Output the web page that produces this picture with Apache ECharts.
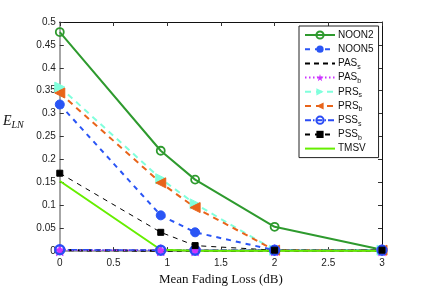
<!DOCTYPE html>
<html><head><meta charset="utf-8">
<script src="https://cdn.jsdelivr.net/npm/echarts@6/dist/echarts.min.js"></script>
<style>html,body{margin:0;padding:0;background:#fff}#c{width:422px;height:291px}</style>
</head><body><div id="c"></div>
<script>
const xVals = [0, 0.94, 1.26, 2, 3];
const NOON2 = [0.478, 0.219, 0.156, 0.053, 0.003];
const NOON5 = [0.32, 0.078, 0.041, 0.002, 0.002];
const PASs = [0.002, 0.001, 0.001, 0.001, 0.001];
const PASb = [0.002, 0.002, 0.002, 0.002, 0.002];
const PRSs = [0.358, 0.158, 0.103, 0.002, 0.002];
const PRSb = [0.345, 0.149, 0.095, 0.002, 0.002];
const PSSs = [0.003, 0.002, 0.002, 0.002, 0.002];
const PSSb = [0.17, 0.041, 0.012, 0.002, 0.002];
const TMSV = [0.153, 0.003, 0.001, 0.001, 0.001];
const yTicks = [0, 0.05, 0.1, 0.15, 0.2, 0.25, 0.3, 0.35, 0.4, 0.45, 0.5];
const xTicks = [0, 0.5, 1, 1.5, 2, 2.5, 3];

const pair = a => a.map((v, i) => [xVals[i], v]);
const star = 'path://M50,0 L61,35 L98,35 L68,57 L79,91 L50,70 L21,91 L32,57 L2,35 L39,35 Z';
const clear = 'rgba(255,255,255,0)';

function S(name, data, color, type, width, symbol, size, extra) {
  return Object.assign({
    name, type: 'line', data: pair(data), xAxisIndex: 0, yAxisIndex: 0,
    lineStyle: { color, type, width },
    itemStyle: { color, borderColor: color },
    symbol: symbol || 'none', symbolSize: size || 0, showSymbol: !!symbol,
    animation: false, z: 3
  }, extra || {});
}

const series = [
  S('NOON2', NOON2, '#2e9a2e', 'solid', 2, 'circle', 8, { itemStyle: { color: clear, borderColor: '#2e9a2e', borderWidth: 1.8 } }),
  S('NOON5', NOON5, '#2a55f5', [5, 5], 2, 'circle', 9),
  S('PASs', PASs, '#000', [5, 4], 2.2, null, 0),
  S('PASb', PASb, '#cc33ff', [1.5, 2.5], 1.5, star, 11),
  S('PRSs', PRSs, '#80ffdc', [6, 5], 2, 'triangle', 10, { symbolRotate: -90 }),
  S('PRSb', PRSb, '#e8641a', [6, 5], 2, 'triangle', 10, { symbolRotate: 90 }),
  S('PSSs', PSSs, '#2a4bf5', [6, 2, 1.5, 2], 1.5, 'circle', 9, { itemStyle: { color: clear, borderColor: '#2a4bf5', borderWidth: 2.4 } }),
  S('PSSb', PSSb, '#000', [5, 5], 1, 'rect', 6),
  S('TMSV', TMSV, '#66ee00', 'solid', 2, null, 0)
];

const legendNames = {
  NOON2: '{m|NOON2}', NOON5: '{m|NOON5}',
  PASs: '{m|PAS}{s|s}', PASb: '{m|PAS}{s|b}',
  PRSs: '{m|PRS}{s|s}', PRSb: '{m|PRS}{s|b}',
  PSSs: '{m|PSS}{s|s}', PSSb: '{m|PSS}{s|b}',
  TMSV: '{m|TMSV}'
};
const noMarker = ['PASs', 'TMSV'];

const chart = echarts.init(document.getElementById('c'), null, { renderer: 'canvas' });
const axFont = { fontFamily: 'Liberation Sans', fontSize: 10, color: '#222' };
chart.setOption({
  animation: false,
  backgroundColor: '#fff',
  grid: { left: 54, right: 40, top: 22, bottom: 33 },
  legend: {
    orient: 'vertical', left: 299, top: 26,
    backgroundColor: '#fff', borderColor: '#222', borderWidth: 1,
    padding: [2, 5, 2, 5], itemGap: 0.2,
    itemWidth: 30, itemHeight: 9,
    data: Object.keys(legendNames).map(n => noMarker.includes(n)
      ? { name: n, itemStyle: { color: clear, borderColor: clear, borderWidth: 0 } }
      : { name: n }),
    formatter: n => legendNames[n],
    textStyle: {
      fontFamily: 'Liberation Sans', fontSize: 10, color: '#111', lineHeight: 14, padding: [0, 0, 0, -2],
      rich: {
        m: { fontFamily: 'Liberation Sans', fontSize: 10, lineHeight: 14, color: '#111' },
        s: { fontFamily: 'Liberation Sans', fontSize: 7, lineHeight: 8, verticalAlign: 'bottom', color: '#111' }
      }
    }
  },
  xAxis: [
    {
      type: 'value', min: 0, max: 3, interval: 0.5, position: 'bottom',
      name: 'Mean Fading Loss (dB)', nameLocation: 'middle', nameGap: 20,
      nameTextStyle: { fontFamily: 'Liberation Serif', fontSize: 13, color: '#111' },
      axisLine: { onZero: false, lineStyle: { color: '#888', width: 1.5 } },
      axisTick: { inside: true, length: 4, lineStyle: { color: '#333' } },
      axisLabel: Object.assign({ margin: 7, formatter: v => xTicks.includes(v) ? String(v) : '' }, axFont),
      splitLine: { show: false }
    },
    {
      type: 'value', min: 0, max: 3, interval: 0.5, position: 'top',
      axisLine: { onZero: false, lineStyle: { color: '#111', width: 1 } },
      axisTick: { inside: true, length: 4, lineStyle: { color: '#333' } },
      axisLabel: { show: false }, splitLine: { show: false }
    }
  ],
  yAxis: [
    {
      type: 'value', min: 0, max: 0.5, interval: 0.05, position: 'left',
      name: '{e|E}{s|LN}', nameLocation: 'middle', nameRotate: 0, nameGap: 36,
      nameTextStyle: {
        padding: [0, 0, 30, 0],
        rich: {
          e: { fontFamily: 'Liberation Serif', fontStyle: 'italic', fontSize: 14, color: '#111', lineHeight: 18 },
          s: { fontFamily: 'Liberation Serif', fontStyle: 'italic', fontSize: 10, color: '#111', verticalAlign: 'bottom', lineHeight: 12 }
        }
      },
      axisLine: { onZero: false, lineStyle: { color: '#888', width: 1.5 } },
      axisTick: { inside: true, length: 4, lineStyle: { color: '#333' } },
      axisLabel: Object.assign({ margin: 4, formatter: v => { const t = yTicks.find(k => Math.abs(k - v) < 1e-9); return t === undefined ? '' : String(t); } }, axFont),
      splitLine: { show: false }
    },
    {
      type: 'value', min: 0, max: 0.5, interval: 0.05, position: 'right',
      axisLine: { onZero: false, lineStyle: { color: '#111', width: 1 } },
      axisTick: { inside: true, length: 4, lineStyle: { color: '#333' } },
      axisLabel: { show: false }, splitLine: { show: false }
    }
  ],
  series
});
</script></body></html>
